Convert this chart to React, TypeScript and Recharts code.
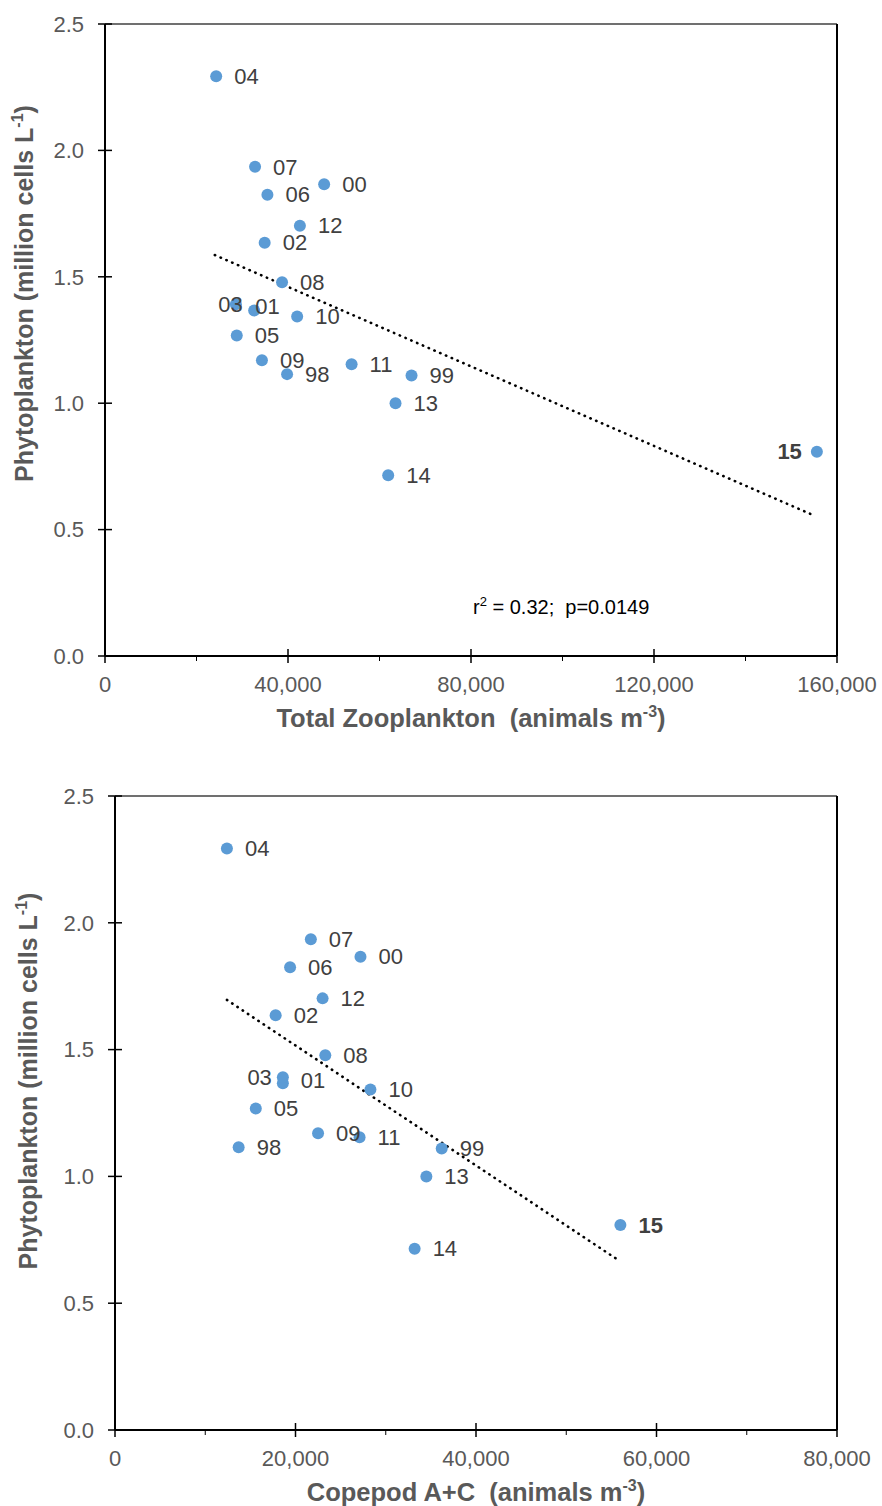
import React from "react";
import { ScatterChart, Scatter, XAxis, YAxis, ReferenceLine } from "recharts";

const YEARS = ["98", "99", "00", "01", "02", "03", "04", "05", "06", "07", "08", "09", "10", "11", "12", "13", "14", "15"];
const PHYTOPLANKTON = [1.115, 1.11, 1.866, 1.367, 1.635, 1.391, 2.293, 1.268, 1.825, 1.935, 1.478, 1.17, 1.343, 1.154, 1.702, 1.0, 0.715, 0.808];
const TOTAL_ZOOPLANKTON = [39800, 67000, 47900, 32600, 34900, 28600, 24300, 28800, 35500, 32800, 38700, 34300, 42000, 53900, 42600, 63500, 61900, 155600];
const COPEPOD_AC = [13700, 36200, 27200, 18600, 17800, 18600, 12400, 15600, 19400, 21700, 23300, 22500, 28300, 27100, 23000, 34500, 33200, 56000];

const PHYTO_TICKS = [0, 0.5, 1, 1.5, 2, 2.5];
const ZOO_TICKS = [0, 20000, 40000, 60000, 80000, 100000, 120000, 140000, 160000];
const COPEPOD_TICKS = [0, 10000, 20000, 30000, 40000, 50000, 60000, 70000, 80000];

// dotted trend lines, end points
const ZOO_TREND = [{ x: 24000, y: 1.586 }, { x: 155200, y: 0.554 }];
const COPEPOD_TREND = [{ x: 12400, y: 1.696 }, { x: 55600, y: 0.674 }];

const BOLD_YEARS = ["15"];

const FONT = '"Liberation Sans", Arial, sans-serif';
const TICK_GREY = "#595959";
const LABEL_GREY = "#404040";
const DOT_BLUE = "#5B9BD5";

type Tweak = { dx?: number; dy?: number; anchor?: "start" | "end" };

const TOP_TWEAKS: Record<string, Tweak> = {
  "03": { dx: 7, anchor: "end" },
  "01": { dx: 1, dy: -4 },
  "15": { dx: -15, anchor: "end" },
};
const BOTTOM_TWEAKS: Record<string, Tweak> = {
  "03": { dx: -11, anchor: "end" },
  "01": { dy: -3 },
};

const yTick = (props: any) => {
  const { x, y, payload } = props;
  return (
    <g>
      <line x1={x - 7} x2={x + 7} y1={y} y2={y} stroke="#000" strokeWidth={1.5} />
      <text x={x - 21} y={y} dy="0.35em" textAnchor="end" fill={TICK_GREY} fontSize={22} fontFamily={FONT}>
        {Number(payload.value).toFixed(1)}
      </text>
    </g>
  );
};

const xTick = (majorStep: number) => (props: any) => {
  const { x, y, payload } = props;
  const major = payload.value % majorStep === 0;
  return (
    <g>
      {major ? (
        <line x1={x} x2={x} y1={y - 7} y2={y + 7} stroke="#000" strokeWidth={1.5} />
      ) : (
        <line x1={x} x2={x} y1={y} y2={y + 5} stroke="#000" strokeWidth={1} />
      )}
      {major && (
        <text x={x} y={y + 36} textAnchor="middle" fill={TICK_GREY} fontSize={22} fontFamily={FONT}>
          {Number(payload.value).toLocaleString("en-US")}
        </text>
      )}
    </g>
  );
};

const dot = (props: any) => <circle cx={props.cx} cy={props.cy} r={6} fill={DOT_BLUE} />;

const yearLabel = (tweaks: Record<string, Tweak>) => (props: any) => {
  const { cx, cy, payload } = props;
  const t = tweaks[payload.year] || {};
  return (
    <text
      x={cx + (t.dx ?? 18)}
      y={cy + (t.dy ?? 0)}
      dy="0.35em"
      textAnchor={t.anchor ?? "start"}
      fontSize={22}
      fontFamily={FONT}
      fontWeight={BOLD_YEARS.includes(payload.year) ? 700 : 400}
      fill={LABEL_GREY}
    >
      {payload.year}
    </text>
  );
};

const titleStyle = { whiteSpace: "pre" as const };

function Panel(props: {
  xs: number[];
  xMax: number;
  xTicks: number[];
  majorStep: number;
  trend: { x: number; y: number }[];
  tweaks: Record<string, Tweak>;
  height: number;
  top: number;
  yAxisWidth: number;
  xAxisHeight: number;
  xTitle: string;
  xTitleY: number;
  yTitleX: number;
  yTitleY: number;
  children?: React.ReactNode;
}) {
  const data = YEARS.map((year, i) => ({ x: props.xs[i], y: PHYTOPLANKTON[i], year }));
  const plotLeft = props.yAxisWidth;
  const plotRight = 837;
  return (
    <ScatterChart
      width={882}
      height={props.height}
      margin={{ top: props.top, right: 882 - plotRight, bottom: 0, left: 0 }}
      style={{ fontFamily: FONT }}
    >
      <XAxis
        type="number"
        dataKey="x"
        domain={[0, props.xMax]}
        ticks={props.xTicks}
        interval={0}
        tickSize={0}
        tickMargin={0}
        tickLine={false}
        tick={xTick(props.majorStep)}
        axisLine={{ stroke: "#000", strokeWidth: 2 }}
        height={props.xAxisHeight}
        allowDataOverflow
      />
      <YAxis
        type="number"
        dataKey="y"
        domain={[0, 2.5]}
        ticks={PHYTO_TICKS}
        interval={0}
        tickSize={0}
        tickMargin={0}
        tickLine={false}
        tick={yTick}
        axisLine={{ stroke: "#000", strokeWidth: 2 }}
        width={props.yAxisWidth}
        allowDataOverflow
      />
      <ReferenceLine y={2.5} stroke="#404040" strokeWidth={1.5} ifOverflow="visible" />
      <ReferenceLine x={props.xMax} stroke="#000" strokeWidth={2} ifOverflow="visible" />
      <Scatter data={data} shape={dot} isAnimationActive={false} />
      <ReferenceLine
        segment={props.trend}
        stroke="#000"
        strokeWidth={2.6}
        strokeLinecap="round"
        strokeDasharray="0.4 5.9"
        ifOverflow="visible"
      />
      <Scatter data={data} shape={yearLabel(props.tweaks)} isAnimationActive={false} />
      <text
        x={(plotLeft + plotRight) / 2}
        y={props.xTitleY}
        textAnchor="middle"
        fontSize={25.5}
        fontWeight={700}
        fill={TICK_GREY}
        fontFamily={FONT}
        style={titleStyle}
      >
        {props.xTitle}
        <tspan dy={-10} fontSize={16}>-3</tspan>
        <tspan dy={10}>)</tspan>
      </text>
      <text
        transform={`translate(${props.yTitleX}, ${props.yTitleY}) rotate(-90)`}
        x={0}
        y={0}
        textAnchor="middle"
        fontSize={25}
        fontWeight={700}
        fill={TICK_GREY}
        fontFamily={FONT}
        style={titleStyle}
      >
        Phytoplankton (million cells L
        <tspan dy={-10} fontSize={16}>-1</tspan>
        <tspan dy={10}>)</tspan>
      </text>
      {props.children}
    </ScatterChart>
  );
}

export default function App() {
  return (
    <div style={{ position: "absolute", left: 0, top: 0, width: 882, height: 1506, background: "#fff" }}>
      <Panel
        xs={TOTAL_ZOOPLANKTON}
        xMax={160000}
        xTicks={ZOO_TICKS}
        majorStep={40000}
        trend={ZOO_TREND}
        tweaks={TOP_TWEAKS}
        height={740}
        top={24}
        yAxisWidth={105}
        xAxisHeight={84}
        xTitle="Total Zooplankton  (animals m"
        xTitleY={727}
        yTitleX={33}
        yTitleY={293.5}
      >
        <text x={473} y={614} fontSize={20} fill="#000" fontFamily={FONT} style={titleStyle}>
          r<tspan dy={-8} fontSize={13}>2</tspan>
          <tspan dy={8}> = 0.32;  p=0.0149</tspan>
        </text>
      </Panel>
      <Panel
        xs={COPEPOD_AC}
        xMax={80000}
        xTicks={COPEPOD_TICKS}
        majorStep={20000}
        trend={COPEPOD_TREND}
        tweaks={BOTTOM_TWEAKS}
        height={766}
        top={56}
        yAxisWidth={115}
        xAxisHeight={76}
        xTitle="Copepod A+C  (animals m"
        xTitleY={761}
        yTitleX={37}
        yTitleY={341}
      />
    </div>
  );
}
